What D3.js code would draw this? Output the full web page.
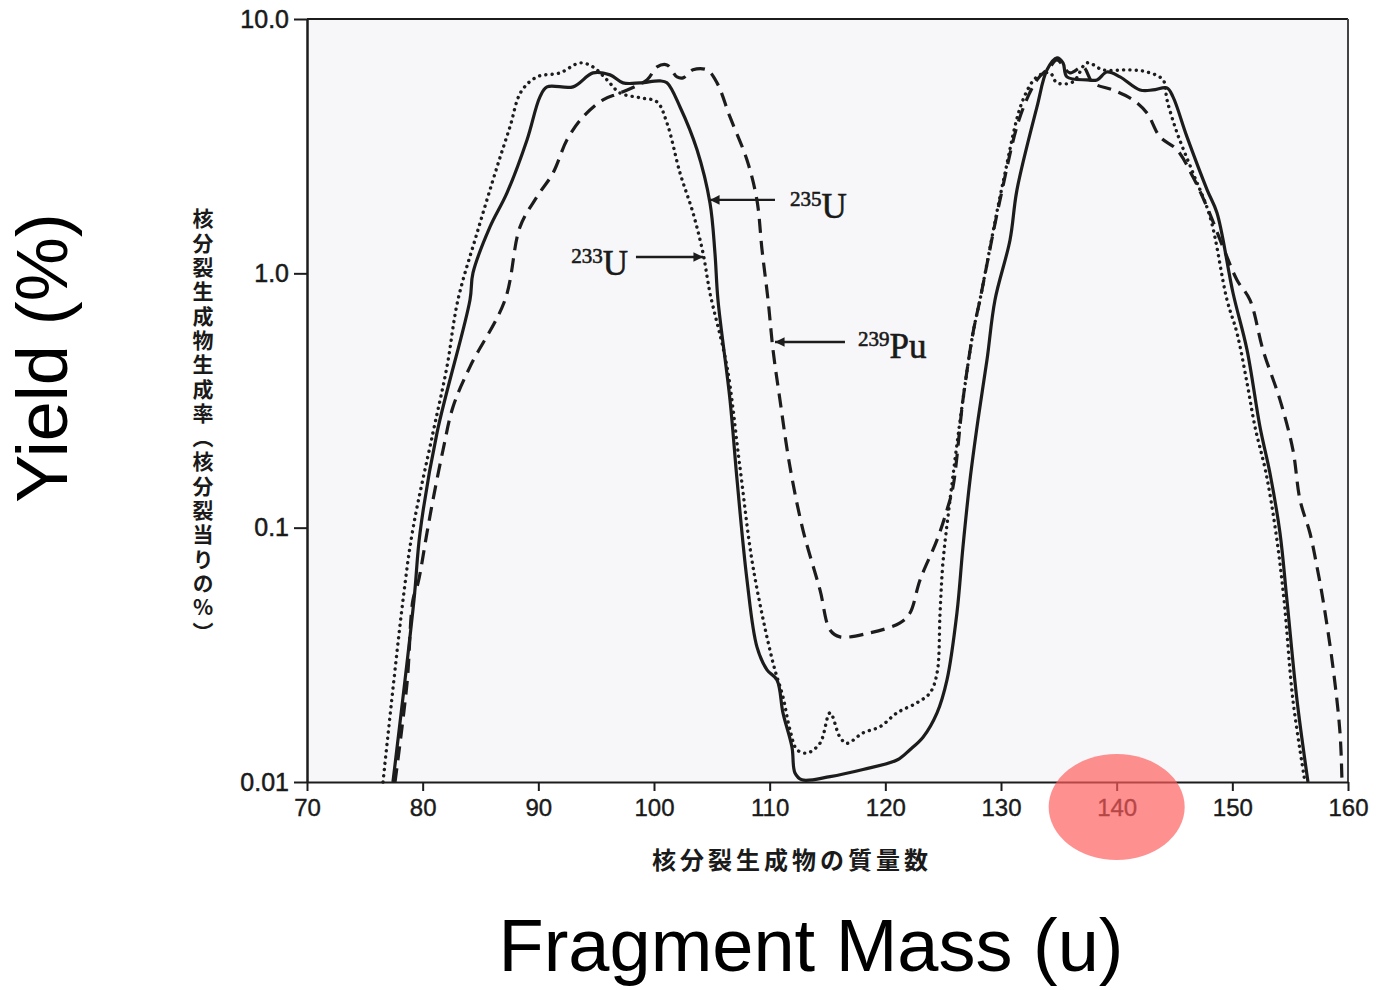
<!DOCTYPE html>
<html>
<head>
<meta charset="utf-8">
<script src="https://cdn.jsdelivr.net/npm/d3@7"></script>
<style>
  html, body { margin: 0; padding: 0; background: #ffffff; }
  svg { display: block; }
</style>
</head>
<body>
<svg id="chart" width="1376" height="990"></svg>
<script>
// ---- data (mass number, fission yield %) ----
const massTicks = [70, 80, 90, 100, 110, 120, 130, 140, 150, 160];
const yieldTicks = [0.01, 0.1, 1, 10];
const yieldTickLabels = ["0.01", "0.1", "1.0", "10.0"];

const u235 = [
  [77.43,0.0100],[79.25,0.052],[79.77,0.0953],[81.24,0.236],[84.09,0.786],[84.35,1.004],
  [85.82,1.522],[87.29,2.071],[89.02,3.346],[90.14,4.94],[90.75,5.41],[93.00,5.41],
  [94.73,6.14],[96.20,6.03],[97.32,5.61],[98.79,5.61],[100.52,5.71],[101.12,5.61],
  [102.25,4.51],[103.72,3.06],[104.84,1.89],[105.27,1.20],[105.53,0.786],[106.57,0.318],
  [107.18,0.154],[108.04,0.0623],[108.90,0.0340],[109.77,0.0276],[110.63,0.0252],
  [111.15,0.0187],[111.93,0.0137],[112.19,0.01085],[112.79,0.0102],[115.22,0.0105],
  [118.07,0.0112],[121.01,0.0122],[122.13,0.0134],[123.26,0.0150],[124.47,0.0187],
  [125.33,0.0252],[126.19,0.0462],[126.71,0.0839],[127.32,0.154],[128.01,0.265],
  [128.79,0.457],[129.48,0.786],[130.78,1.353],[131.38,2.128],[133.11,4.51],[133.98,6.31],
  [134.84,7.03],[135.36,6.72],[135.70,5.92],[137.43,5.76],[138.30,5.76],[139.16,6.19],
  [140.29,5.92],[142.02,5.26],[143.14,5.26],[144.35,5.36],[144.87,4.94],[146.08,3.44],
  [147.82,2.13],[148.67,1.73],[150.06,0.837],[151.27,0.500],[152.39,0.249],[153.25,0.164],
  [154.12,0.0953],[154.72,0.052],[155.59,0.0210],[156.54,0.0100]
];

const u233 = [
  [76.57,0.0100],[78.30,0.052],[79.16,0.099],[80.89,0.236],[82.10,0.429],[83.05,0.786],
  [84.70,1.44],[86.43,2.62],[87.55,3.77],[88.50,5.17],[89.88,5.92],[91.87,6.14],
  [93.60,6.72],[94.73,6.48],[95.94,5.76],[97.06,5.12],[98.79,4.90],[100.26,4.72],
  [101.12,3.90],[102.25,2.48],[103.37,1.73],[104.24,1.20],[104.84,0.837],[106.31,0.429],
  [107.43,0.173],[108.56,0.0701],[110.29,0.0294],[111.15,0.0216],[111.76,0.0160],
  [112.36,0.0134],[113.23,0.0130],[114.35,0.0142],[115.22,0.0187],[116.08,0.0150],
  [116.68,0.0142],[118.07,0.0156],[119.54,0.0165],[121.01,0.0187],[122.74,0.0205],
  [123.86,0.0224],[124.47,0.0268],[124.73,0.0462],[124.98,0.0727],[125.59,0.1285],
  [126.71,0.318],[127.58,0.583],[128.18,0.786],[130.17,2.27],[131.90,4.81],[133.11,5.92],
  [134.23,6.14],[134.84,5.61],[136.22,5.66],[137.43,6.72],[138.82,6.31],[141.15,6.31],
  [142.62,6.19],[144.01,5.76],[144.35,4.81],[145.22,3.57],[146.60,2.48],[148.07,1.67],
  [149.54,0.786],[150.40,0.583],[151.27,0.371],[151.96,0.249],[152.91,0.164],
  [153.77,0.0953],[154.47,0.052],[155.24,0.0210],[156.28,0.0100]
];

const pu239 = [
  [77.61,0.0100],[78.65,0.0245],[79.16,0.052],[79.60,0.0606],[80.37,0.0953],[80.89,0.1285],
  [81.76,0.202],[82.62,0.298],[84.09,0.429],[87.12,0.786],[88.41,1.52],[89.88,2.00],
  [91.27,2.48],[92.48,3.35],[93.86,4.12],[95.59,4.81],[97.06,5.12],[99.39,5.76],
  [100.26,6.48],[101.12,6.60],[101.99,5.92],[102.51,5.87],[103.37,6.31],[104.58,6.31],
  [105.45,5.61],[106.57,4.12],[108.04,2.79],[108.90,1.94],[109.34,1.236],[109.86,0.786],
  [110.29,0.500],[110.89,0.318],[111.76,0.173],[112.88,0.0979],[114.35,0.0569],
  [115.22,0.0396],[116.08,0.0372],[118.67,0.0386],[121.27,0.0422],[122.13,0.0462],
  [123.00,0.0623],[124.47,0.0895],[125.33,0.1174],[125.85,0.1445],[126.71,0.318],
  [127.58,0.583],[128.18,0.786],[129.91,1.94],[131.64,4.12],[133.11,5.76],[134.23,6.48],
  [134.84,6.91],[135.96,6.14],[137.09,6.48],[137.95,5.61],[139.68,5.26],[141.41,4.81],
  [142.62,4.27],[143.75,3.44],[145.22,3.06],[146.60,2.39],[147.82,1.82],[149.19,1.27],
  [150.40,0.942],[151.52,0.786],[152.65,0.500],[154.12,0.318],[155.24,0.202],
  [155.85,0.1285],[156.71,0.0953],[157.32,0.0701],[157.84,0.052],[158.70,0.0283],
  [159.31,0.0156],[159.48,0.0100]
];

// annotation anchors: [tipMass, tipYield, tailMass, textMass, textYield]
const annoU235 = [104.84, 1.944, 110.46, 111.76, 1.65];
const annoU233 = [104.24, 1.16, 98.44, 97.75, 0.986];
const annoPu239 = [110.46, 0.537, 116.51, 117.64, 0.465];
const highlightMass = 140;

// ---- drawing ----
const svg = d3.select("#chart");
const x = d3.scaleLinear().domain([70, 160]).range([307, 1348]);
const y = d3.scaleLog().domain([0.01, 10]).range([782, 19]);

const ink = "#1c1c1c";

// paper background of plot area
svg.append("rect")
  .attr("x", x(70)).attr("y", y(10))
  .attr("width", x(160) - x(70)).attr("height", y(0.01) - y(10))
  .attr("fill", "#f7f7f9");

// frame top/right
svg.append("line").attr("x1", x(70)).attr("x2", x(160)).attr("y1", y(10)).attr("y2", y(10))
  .attr("stroke", ink).attr("stroke-width", 2);
svg.append("line").attr("x1", x(160)).attr("x2", x(160)).attr("y1", y(10)).attr("y2", y(0.01))
  .attr("stroke", "#444").attr("stroke-width", 2);

// axes
const yAxis = d3.axisLeft(y).tickValues(yieldTicks)
  .tickFormat((d, i) => yieldTickLabels[i]).tickSize(13).tickSizeOuter(0).tickPadding(5);
const gy = svg.append("g").attr("transform", `translate(${x(70)},0)`).call(yAxis);
gy.select(".domain").attr("stroke", ink).attr("stroke-width", 2.5);
gy.selectAll(".tick line").attr("stroke", ink).attr("stroke-width", 2);
gy.selectAll(".tick text").attr("font-family", "Liberation Sans, Arial, sans-serif")
  .attr("font-size", 25).attr("fill", "#1a1a1a")
  .attr("stroke", "#1a1a1a").attr("stroke-width", 0.5);

const xAxis = d3.axisBottom(x).tickValues(massTicks).tickSize(9).tickSizeOuter(0).tickPadding(8);
const gx = svg.append("g").attr("transform", `translate(0,${y(0.01)})`).call(xAxis);
gx.select(".domain").attr("stroke", ink).attr("stroke-width", 2);
gx.selectAll(".tick line").attr("stroke", ink).attr("stroke-width", 2);
gx.selectAll(".tick text").attr("font-family", "Liberation Sans, Arial, sans-serif")
  .attr("font-size", 24).attr("fill", "#1a1a1a")
  .attr("stroke", "#1a1a1a").attr("stroke-width", 0.4);

// curves
const line = d3.line().x(d => x(d[0])).y(d => y(d[1])).curve(d3.curveCatmullRom.alpha(0.5));
const plot = svg.append("g");
plot.append("path").datum(pu239).attr("d", line).attr("fill", "none")
  .attr("stroke", ink).attr("stroke-width", 3.2).attr("stroke-dasharray", "14 8");
plot.append("path").datum(u233).attr("d", line).attr("fill", "none")
  .attr("stroke", ink).attr("stroke-width", 3.4).attr("stroke-dasharray", "0.1 6.2")
  .attr("stroke-linecap", "round");
plot.append("path").datum(u235).attr("d", line).attr("fill", "none")
  .attr("stroke", ink).attr("stroke-width", 3.2).attr("stroke-linejoin", "round");

// arrows
const defs = svg.append("defs");
defs.append("marker").attr("id", "arrowhead").attr("viewBox", "0 0 10 10")
  .attr("refX", 10).attr("refY", 5).attr("markerWidth", 8).attr("markerHeight", 4)
  .attr("markerUnits", "strokeWidth").attr("orient", "auto")
  .append("path").attr("d", "M0,0 L10,5 L0,10 Z").attr("fill", ink);

function annotate(a, label, sup, anchor) {
  svg.append("line")
    .attr("x1", x(a[2])).attr("y1", y(a[1]))
    .attr("x2", x(a[0])).attr("y2", y(a[1]))
    .attr("stroke", ink).attr("stroke-width", 2.4)
    .attr("marker-end", "url(#arrowhead)");
  const t = svg.append("text")
    .attr("x", x(a[3])).attr("y", y(a[4]))
    .attr("text-anchor", anchor)
    .attr("font-family", "Liberation Serif, Times New Roman, serif")
    .attr("fill", "#1a1a1a").attr("stroke", "#1a1a1a").attr("stroke-width", 0.6);
  t.append("tspan").attr("font-size", 21).attr("dy", -12).text(sup);
  t.append("tspan").attr("font-size", 35).attr("dy", 12).text(label);
}
annotate(annoU235, "U", "235", "start");
annotate(annoU233, "U", "233", "end");
annotate(annoPu239, "Pu", "239", "start");

// Japanese axis titles
svg.append("text")
  .attr("x", 203).attr("y", 208)
  .style("writing-mode", "vertical-rl")
  .style("text-orientation", "upright")
  .attr("font-family", "Noto Sans CJK JP, sans-serif")
  .attr("font-size", 21).attr("font-weight", 700)
  .attr("letter-spacing", 3.3)
  .attr("fill", "#1a1a1a")
  .text("核分裂生成物生成率︵核分裂当りの%︶");

svg.append("text")
  .attr("x", 792).attr("y", 869)
  .attr("text-anchor", "middle")
  .attr("font-family", "Noto Sans CJK JP, sans-serif")
  .attr("font-size", 24).attr("font-weight", 700)
  .attr("letter-spacing", 4)
  .attr("fill", "#1a1a1a")
  .text("核分裂生成物の質量数");

// English overlay titles
svg.append("text")
  .attr("transform", "translate(67,358) rotate(-90)")
  .attr("text-anchor", "middle")
  .attr("font-family", "Liberation Sans, Arial, sans-serif")
  .attr("font-size", 72).attr("fill", "#000")
  .text("Yield (%)");

svg.append("text")
  .attr("x", 811).attr("y", 971)
  .attr("text-anchor", "middle")
  .attr("font-family", "Liberation Sans, Arial, sans-serif")
  .attr("font-size", 74).attr("fill", "#000")
  .text("Fragment Mass (u)");

// highlight ellipse around 140
svg.append("ellipse")
  .attr("cx", x(highlightMass)).attr("cy", 807)
  .attr("rx", 68).attr("ry", 53)
  .attr("fill", "#ff5c5c").attr("fill-opacity", 0.68);
</script>
</body>
</html>
